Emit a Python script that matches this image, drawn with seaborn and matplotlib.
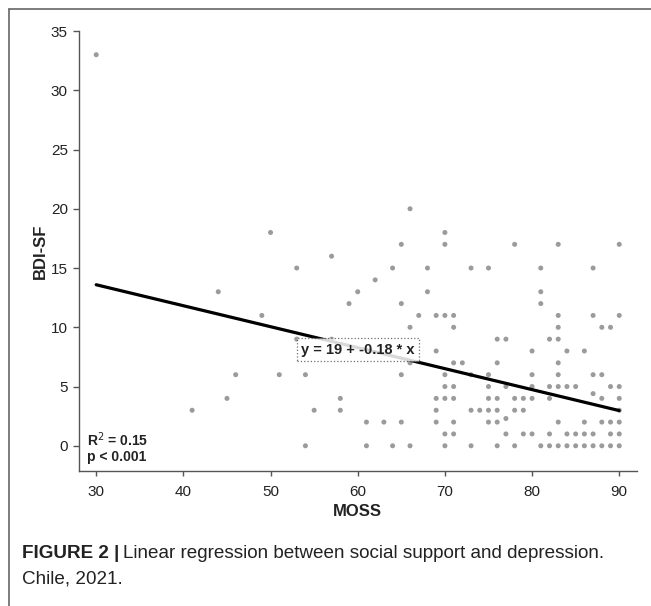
import numpy as np
import matplotlib
matplotlib.use('Agg')
import matplotlib.pyplot as plt
import pandas as pd
import seaborn as sn
from matplotlib.lines import Line2D

# MOSS (social support) and BDI-SF (depression) scores
moss = [30, 41, 44, 45, 46, 49, 50, 51, 53, 53, 54, 54, 55, 57, 57, 58, 58, 59, 60,
        61, 61, 62, 63, 64, 64, 65, 65, 65, 65, 66, 66, 66, 66, 67, 68, 68,
        69, 69, 69, 69, 69,
        70, 70, 70, 70, 70, 70, 70, 70,
        71, 71, 71, 71, 71, 71, 71,
        72, 73, 73, 73, 73, 74,
        75, 75, 75, 75, 75, 75,
        76, 76, 76, 76, 76, 76,
        77, 77, 77, 77, 78, 78, 78, 78, 79, 79, 79,
        80, 80, 80, 80, 80, 81, 81, 81, 81,
        82, 82, 82, 82, 82,
        83, 83, 83, 83, 83, 83, 83, 83, 83,
        84, 84, 84, 84, 85, 85, 85, 86, 86, 86, 86,
        87, 87, 87, 87, 87, 87, 88, 88, 88, 88, 88,
        89, 89, 89, 89, 89,
        90, 90, 90, 90, 90, 90, 90, 90]
bdi = [33, 3, 13, 4, 6, 11, 18, 6, 15, 9, 6, 0, 3, 16, 9, 4, 3, 12, 13,
       2, 0, 14, 2, 15, 0, 17, 12, 6, 2, 20, 10, 7, 0, 11, 15, 13,
       11, 8, 4, 3, 2,
       18, 17, 11, 6, 5, 4, 1, 0,
       11, 10, 7, 5, 4, 2, 1,
       7, 15, 6, 3, 0, 3,
       15, 6, 5, 4, 3, 2,
       9, 7, 4, 3, 2, 0,
       9, 5, 2.3, 1, 17, 4, 3, 0, 4, 3, 1,
       8, 6, 5, 4, 1, 15, 13, 12, 0,
       9, 5, 4, 1, 0,
       17, 11, 10, 9, 7, 6, 5, 2, 0,
       8, 5, 1, 0, 5, 1, 0, 8, 2, 1, 0,
       15, 11, 6, 4.4, 1, 0, 10, 6, 4, 2, 0,
       10, 5, 2, 1, 0,
       17, 11, 5, 4, 3, 2, 1, 0]

# fitted line as printed in the chart (slightly more precise than the label)
intercept = 18.9
slope = -0.177

x_ticks = [30, 40, 50, 60, 70, 80, 90]
y_ticks = [0, 5, 10, 15, 20, 25, 30, 35]
equation = 'y = 19 + -0.18 * x'
r2_text = 'R$^2$ = 0.15'
p_text = 'p < 0.001'

df = pd.DataFrame({'MOSS': moss, 'BDI-SF': bdi})
x_fit = np.array([min(moss), max(moss)])
fit = pd.DataFrame({'MOSS': x_fit, 'BDI-SF': intercept + slope * x_fit})

sn.set_style('ticks')
plt.rcParams['font.family'] = ['Liberation Sans Narrow', 'Liberation Sans', 'DejaVu Sans']

fig = plt.figure(figsize=(6.51, 6.06), dpi=100)
ax = fig.add_axes([0.121, 0.2233, 0.857, 0.7255])

sn.scatterplot(data=df, x='MOSS', y='BDI-SF', ax=ax, color='#9b9b9b', s=13,
               edgecolor='none', zorder=2)
sn.lineplot(data=fit, x='MOSS', y='BDI-SF', ax=ax, color='black', lw=2.3, zorder=3)

ax.set_xlim(28, 92)
ax.set_ylim(-2.1, 35)
ax.set_xticks(x_ticks)
ax.set_yticks(y_ticks)
sn.despine(ax=ax)
for side in ['left', 'bottom']:
    ax.spines[side].set_color('#555555')
    ax.spines[side].set_linewidth(1.0)
ax.tick_params(axis='both', colors='#555555', labelcolor='#222222', labelsize=11, width=1.0)
ax.tick_params(axis='x', length=3.6, pad=6.5)
ax.tick_params(axis='y', length=4.3, pad=3.6)
ax.set_xlabel('MOSS', fontsize=12, fontweight='bold', color='#222222', labelpad=4)
ax.set_ylabel('BDI-SF', fontsize=12, fontweight='bold', color='#222222', labelpad=2)

ax.text(60, 8.1, equation, ha='center', va='center', fontsize=10.5, fontweight='bold',
        color='#222222', zorder=4,
        bbox=dict(boxstyle='square,pad=0.3', facecolor='white', alpha=0.85,
                  edgecolor='#555555', linestyle=':', linewidth=0.9))
ax.text(0.015, 0.07, r2_text, transform=ax.transAxes, ha='left', va='center',
        fontsize=10, fontweight='bold', color='#222222')
ax.text(0.015, 0.03, p_text, transform=ax.transAxes, ha='left', va='center',
        fontsize=10, fontweight='bold', color='#222222')

# frame of the journal figure box (top and left edges)
fig.add_artist(Line2D([0.0143, 1.0], [0.9857, 0.9857], transform=fig.transFigure,
                      color='#666666', lw=1.2))
fig.add_artist(Line2D([0.0143, 0.0143], [0.0, 0.9857], transform=fig.transFigure,
                      color='#666666', lw=1.2))

# caption
cap_font = ['Liberation Sans', 'DejaVu Sans']
cap = fig.text(0.034, 0.08, 'FIGURE 2 |', fontsize=13.6, fontweight='bold',
               color='#222222', family=cap_font)
fig.canvas.draw()
bb = cap.get_window_extent(renderer=fig.canvas.get_renderer())
x_next = bb.x1 / fig.bbox.width + 0.006
fig.text(x_next, 0.08, 'Linear regression between social support and depression.',
         fontsize=13.6, color='#222222', family=cap_font)
fig.text(0.034, 0.037, 'Chile, 2021.', fontsize=13.6, color='#222222', family=cap_font)

fig.savefig('out.png', dpi=100)
